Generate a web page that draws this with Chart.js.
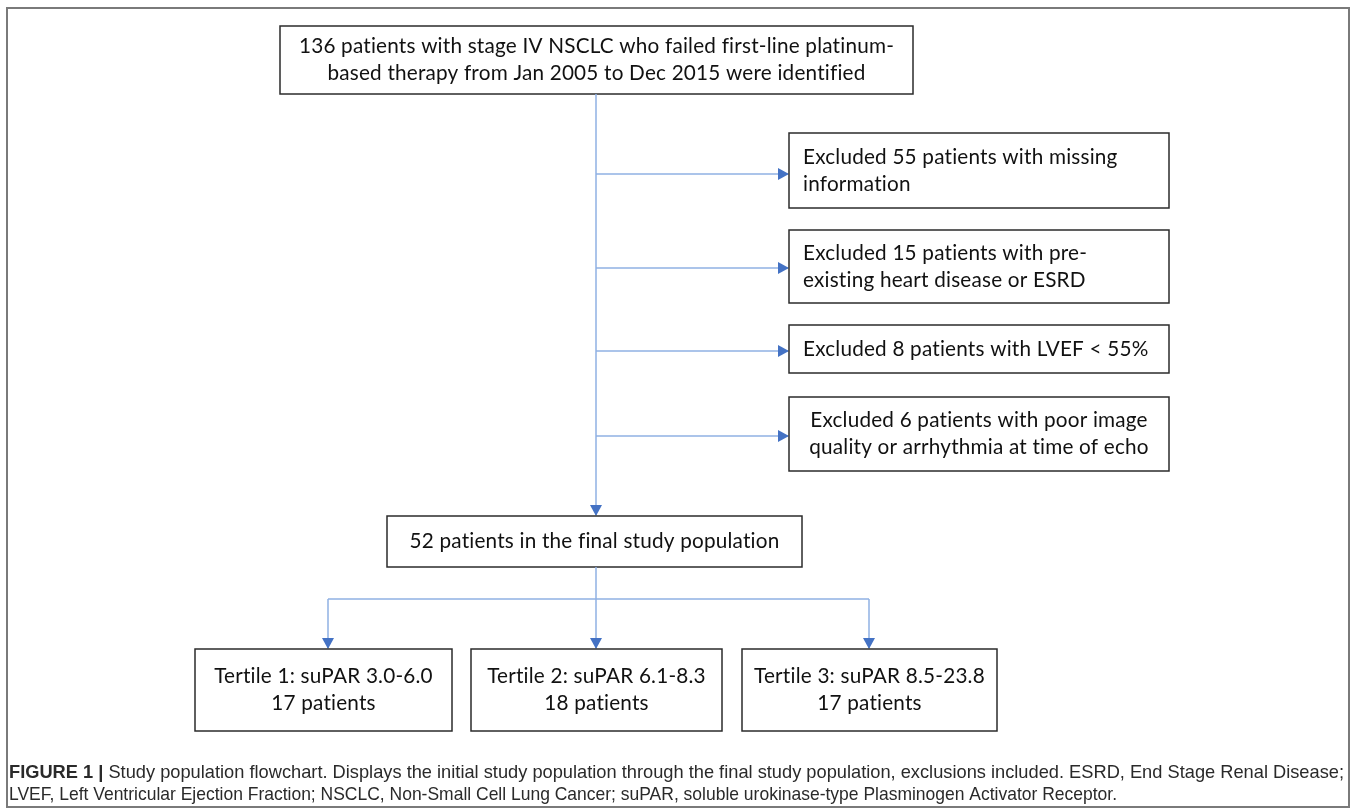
<!DOCTYPE html>
<html>
<head>
<meta charset="utf-8">
<script src="https://cdn.jsdelivr.net/npm/chart.js@4.4.1/dist/chart.umd.min.js"></script>
<style>
  body { margin: 0; background: #fff; }
  #wrap { width: 1355px; height: 808px; position: relative; }
</style>
</head>
<body>
<div id="wrap"><canvas id="flowChart"></canvas></div>
<script>
// study numbers
const totalPatients = 136;
const excludedCounts = [ 55, 15, 8, 6 ];
const excludedReasons = [
    [ 'missing', 'information' ],
    [ 'pre-', 'existing heart disease or ESRD' ],
    [ 'LVEF < 55%' ],
    [ 'poor image', 'quality or arrhythmia at time of echo' ]
];
const finalPatients = 52;
const tertileNames = [ 'Tertile 1', 'Tertile 2', 'Tertile 3' ];
const tertileRanges = [ '3.0-6.0', '6.1-8.3', '8.5-23.8' ];
const tertileCounts = [ 17, 18, 17 ];

const topText = [
    totalPatients + ' patients with stage IV NSCLC who failed first-line platinum-',
    'based therapy from Jan 2005 to Dec 2015 were identified'
];
const captionBold = 'FIGURE 1 |';
const captionLines = [
    ' Study population flowchart. Displays the initial study population through the final study population, exclusions included. ESRD, End Stage Renal Disease;',
    'LVEF, Left Ventricular Ejection Fraction; NSCLC, Non-Small Cell Lung Cancer; suPAR, soluble urokinase-type Plasminogen Activator Receptor.'
];

// layout (in the chart's own units)
const trunkX = 596;
const topBox = { x1: 280, y1: 26, x2: 913, y2: 94 };
const exclBoxes = [
    { y1: 133, y2: 208, arrowY: 174, center: false },
    { y1: 230, y2: 303, arrowY: 268, center: false },
    { y1: 325, y2: 373, arrowY: 351, center: false },
    { y1: 397, y2: 471, arrowY: 436, center: true }
];
const exclX = [ 789, 1169 ];
const finalBox = { x1: 387, y1: 516, x2: 802, y2: 567 };
const branchY = 599;
const tertileBoxes = [ [ 195, 452 ], [ 471, 722 ], [ 742, 997 ] ];
const tertileTop = 649, tertileBottom = 731;

const lineColor = '#8fb1e3';
const headColor = '#4472c4';
const boxFont = 'Lato, "Open Sans", sans-serif';

const flowPlugin = {
    id: 'flow',
    afterDraw( chart ) {
        const c = chart.ctx;
        const sx = chart.scales.x, sy = chart.scales.y;
        const X = v => sx.getPixelForValue( v );
        const Y = v => sy.getPixelForValue( v );

        // spacing switches off the "ti"/"fi" ligatures (Calibri has none)
        c.textRendering = 'optimizeSpeed';
        c.letterSpacing = '0.2px';

        // fit box font to the width of one known line
        c.font = '20px ' + boxFont;
        const w = c.measureText( 'Excluded 8 patients with LVEF < 55%' ).width;
        const fs = 20 * 346 / w;
        const font = fs.toFixed( 2 ) + 'px ' + boxFont;

        function box( b ) {
            c.save();
            c.strokeStyle = '#2b2b2b';
            c.lineWidth = 1.5;
            c.strokeRect( X( b.x1 ), Y( b.y1 ), X( b.x2 ) - X( b.x1 ), Y( b.y2 ) - Y( b.y1 ) );
            c.restore();
        }
        function lines( arr, x, yMid, align ) {
            c.save();
            c.font = font;
            c.fillStyle = '#111';
            c.textAlign = align;
            c.textBaseline = 'middle';
            const lh = 27;
            const y0 = yMid - ( arr.length - 1 ) * lh / 2;
            arr.forEach( ( t, i ) => c.fillText( t, x, y0 + i * lh ) );
            c.restore();
        }
        function seg( pts ) {
            c.save();
            c.strokeStyle = lineColor;
            c.lineWidth = 1.5;
            c.beginPath();
            pts.forEach( ( p, i ) => i ? c.lineTo( X( p[0] ), Y( p[1] ) ) : c.moveTo( X( p[0] ), Y( p[1] ) ) );
            c.stroke();
            c.restore();
        }
        function head( x, y, dir ) {
            const px = X( x ), py = Y( y );
            c.save();
            c.fillStyle = headColor;
            c.beginPath();
            if ( dir === 'right' ) {
                c.moveTo( px, py ); c.lineTo( px - 11, py - 6 ); c.lineTo( px - 11, py + 6 );
            } else {
                c.moveTo( px, py ); c.lineTo( px - 6, py - 11 ); c.lineTo( px + 6, py - 11 );
            }
            c.closePath();
            c.fill();
            c.restore();
        }

        // outer frame
        c.save();
        c.strokeStyle = '#7a7a7a';
        c.lineWidth = 2;
        c.strokeRect( X( 7 ), Y( 8 ), X( 1349 ) - X( 7 ), Y( 807 ) - Y( 8 ) );
        c.restore();

        // top box
        box( topBox );
        lines( topText, X( ( topBox.x1 + topBox.x2 ) / 2 ), Y( ( topBox.y1 + topBox.y2 ) / 2 ), 'center' );

        // trunk
        seg( [ [ trunkX, topBox.y2 ], [ trunkX, finalBox.y1 - 1 ] ] );
        head( trunkX, finalBox.y1, 'down' );

        // exclusions
        exclBoxes.forEach( ( b, i ) => {
            seg( [ [ trunkX, b.arrowY ], [ exclX[0] - 1, b.arrowY ] ] );
            head( exclX[0], b.arrowY, 'right' );
            box( { x1: exclX[0], y1: b.y1, x2: exclX[1], y2: b.y2 } );
            const r = excludedReasons[i];
            const txt = [ 'Excluded ' + excludedCounts[i] + ' patients with ' + r[0] ].concat( r.slice( 1 ) );
            const mid = Y( ( b.y1 + b.y2 ) / 2 );
            if ( b.center ) lines( txt, X( ( exclX[0] + exclX[1] ) / 2 ), mid, 'center' );
            else lines( txt, X( exclX[0] + 14 ), mid, 'left' );
        } );

        // final population
        box( finalBox );
        lines( [ finalPatients + ' patients in the final study population' ], X( ( finalBox.x1 + finalBox.x2 ) / 2 ), Y( ( finalBox.y1 + finalBox.y2 ) / 2 ), 'center' );

        // tertile branches
        const bx = tertileBoxes.map( t => ( t[0] + t[1] ) / 2 );
        const branchX = [ 328, trunkX, 869 ];
        seg( [ [ trunkX, finalBox.y2 ], [ trunkX, branchY ] ] );
        seg( [ [ branchX[0], branchY ], [ branchX[2], branchY ] ] );
        branchX.forEach( x => {
            seg( [ [ x, branchY ], [ x, tertileTop - 1 ] ] );
            head( x, tertileTop, 'down' );
        } );
        tertileBoxes.forEach( ( t, i ) => {
            box( { x1: t[0], y1: tertileTop, x2: t[1], y2: tertileBottom } );
            lines( [ tertileNames[i] + ': suPAR ' + tertileRanges[i], tertileCounts[i] + ' patients' ],
                X( bx[i] ), Y( ( tertileTop + tertileBottom ) / 2 ), 'center' );
        } );

        // caption, condensed by a horizontal squeeze
        c.save();
        c.letterSpacing = '0px';
        const capFont = '"Liberation Sans", Arial, sans-serif';
        const cs = 18.5;
        c.textBaseline = 'alphabetic';
        c.fillStyle = '#2a2a2a';
        c.font = 'bold ' + cs + 'px ' + capFont;
        const bw = c.measureText( captionBold ).width;
        c.font = cs + 'px ' + capFont;
        const w1 = bw + c.measureText( captionLines[0] ).width;
        const w2 = c.measureText( captionLines[1] ).width;

        c.save();
        c.translate( X( 9 ), 0 );
        c.scale( 1335 / w1, 1 );
        c.font = 'bold ' + cs + 'px ' + capFont;
        c.fillText( captionBold, 0, Y( 778 ) );
        c.font = cs + 'px ' + capFont;
        c.fillText( captionLines[0], bw, Y( 778 ) );
        c.restore();

        c.translate( X( 9 ), 0 );
        c.scale( 1108 / w2, 1 );
        c.font = cs + 'px ' + capFont;
        c.fillText( captionLines[1], 0, Y( 800 ) );
        c.restore();
    }
};

new Chart( document.getElementById( 'flowChart' ), {
    type: 'scatter',
    data: { datasets: [ { data: [], pointRadius: 0 } ] },
    options: {
        responsive: true,
        maintainAspectRatio: false,
        animation: false,
        layout: { padding: 0 },
        plugins: { legend: { display: false }, tooltip: { enabled: false } },
        scales: {
            x: { type: 'linear', min: 0, max: 1355, display: false },
            y: { type: 'linear', min: 0, max: 808, reverse: true, display: false }
        }
    },
    plugins: [ flowPlugin ]
} );
</script>
</body>
</html>
